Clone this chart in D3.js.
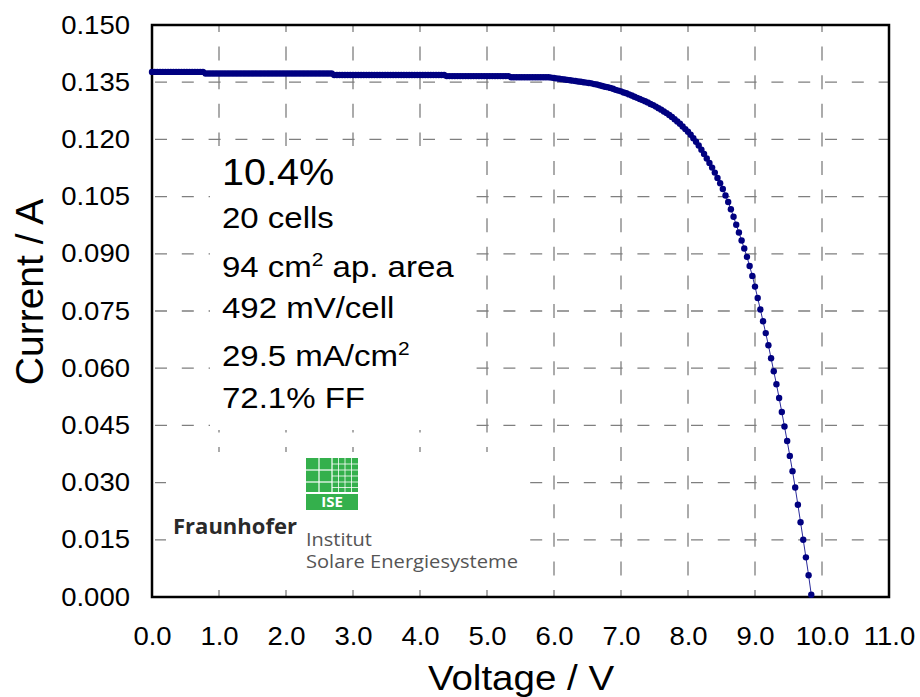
<!DOCTYPE html>
<html>
<head>
<meta charset="utf-8">
<script src="https://cdn.jsdelivr.net/npm/d3@7"></script>
<style>
  body { margin: 0; background: #fff; }
  svg { display: block; }
  text { font-family: "Liberation Sans", Arial, sans-serif; fill: #000; }
</style>
</head>
<body>
<svg id="chart" width="920" height="697"></svg>
<script>
// Measured I-V characteristic of the 20-cell module (voltage in V, current in A)
const voltage = [
  0.00,0.04,0.08,0.12,0.16,0.20,0.24,0.28,0.32,0.36,
  0.40,0.44,0.48,0.52,0.56,0.60,0.64,0.68,0.72,0.76,
  0.80,0.84,0.88,0.92,0.96,1.00,1.04,1.08,1.12,1.16,
  1.20,1.24,1.28,1.32,1.36,1.40,1.44,1.48,1.52,1.56,
  1.60,1.64,1.68,1.72,1.76,1.80,1.84,1.88,1.92,1.96,
  2.00,2.04,2.08,2.12,2.16,2.20,2.24,2.28,2.32,2.36,
  2.40,2.44,2.48,2.52,2.56,2.60,2.64,2.68,2.72,2.76,
  2.80,2.84,2.88,2.92,2.96,3.00,3.04,3.08,3.12,3.16,
  3.20,3.24,3.28,3.32,3.36,3.40,3.44,3.48,3.52,3.56,
  3.60,3.64,3.68,3.72,3.76,3.80,3.84,3.88,3.92,3.96,
  4.00,4.04,4.08,4.12,4.16,4.20,4.24,4.28,4.32,4.36,
  4.40,4.44,4.48,4.52,4.56,4.60,4.64,4.68,4.72,4.76,
  4.80,4.84,4.88,4.92,4.96,5.00,5.04,5.08,5.12,5.16,
  5.20,5.24,5.28,5.32,5.36,5.40,5.44,5.48,5.52,5.56,
  5.60,5.64,5.68,5.72,5.76,5.80,5.84,5.88,5.92,5.96,
  6.00,6.04,6.08,6.12,6.16,6.20,6.24,6.28,6.32,6.36,
  6.40,6.44,6.48,6.52,6.56,6.60,6.64,6.68,6.72,6.76,
  6.80,6.84,6.88,6.92,6.96,7.00,7.04,7.08,7.12,7.16,
  7.20,7.24,7.28,7.32,7.36,7.40,7.44,7.48,7.52,7.56,
  7.60,7.64,7.68,7.72,7.76,7.80,7.84,7.88,7.92,7.96,
  8.00,8.04,8.08,8.12,8.16,8.20,8.24,8.28,8.32,8.36,
  8.40,8.44,8.48,8.52,8.56,8.60,8.64,8.68,8.72,8.76,
  8.80,8.84,8.88,8.92,8.96,9.00,9.04,9.08,9.12,9.16,
  9.20,9.24,9.28,9.32,9.36,9.40,9.44,9.48,9.52,9.56,
  9.60,9.64,9.68,9.72,9.76,9.80,9.84
];
const current = [
  0.1377,0.1377,0.1377,0.1377,0.1377,0.1377,0.1377,0.1377,0.1377,0.1377,
  0.1377,0.1377,0.1377,0.1377,0.1377,0.1377,0.1377,0.1377,0.1377,0.1377,
  0.1373,0.1373,0.1373,0.1373,0.1373,0.1373,0.1373,0.1373,0.1373,0.1373,
  0.1373,0.1373,0.1373,0.1373,0.1373,0.1373,0.1373,0.1373,0.1373,0.1373,
  0.1373,0.1373,0.1373,0.1373,0.1373,0.1373,0.1373,0.1373,0.1373,0.1373,
  0.1373,0.1373,0.1373,0.1373,0.1373,0.1373,0.1373,0.1373,0.1373,0.1373,
  0.1373,0.1373,0.1373,0.1373,0.1373,0.1373,0.1373,0.1373,0.1369,0.1369,
  0.1369,0.1369,0.1369,0.1369,0.1369,0.1369,0.1369,0.1369,0.1369,0.1369,
  0.1369,0.1369,0.1369,0.1369,0.1369,0.1369,0.1369,0.1369,0.1369,0.1369,
  0.1369,0.1369,0.1369,0.1369,0.1369,0.1369,0.1369,0.1369,0.1369,0.1369,
  0.1369,0.1369,0.1369,0.1369,0.1369,0.1369,0.1369,0.1369,0.1369,0.1369,
  0.1366,0.1366,0.1366,0.1366,0.1366,0.1366,0.1366,0.1366,0.1366,0.1366,
  0.1366,0.1366,0.1366,0.1366,0.1366,0.1366,0.1366,0.1366,0.1366,0.1366,
  0.1366,0.1366,0.1366,0.1366,0.1363,0.1363,0.1363,0.1363,0.1363,0.1363,
  0.1363,0.1363,0.1363,0.1363,0.1363,0.1363,0.1363,0.1363,0.1363,0.1362,
  0.1361,0.1360,0.1359,0.1358,0.1357,0.1356,0.1355,0.1354,0.1353,0.1352,
  0.1351,0.1350,0.1349,0.1348,0.1347,0.1345,0.1344,0.1342,0.1340,0.1338,
  0.1337,0.1335,0.1333,0.1330,0.1328,0.1326,0.1323,0.1321,0.1318,0.1315,
  0.1312,0.1309,0.1306,0.1303,0.1300,0.1297,0.1293,0.1290,0.1286,0.1282,
  0.1278,0.1273,0.1269,0.1264,0.1259,0.1253,0.1247,0.1241,0.1234,0.1227,
  0.1220,0.1212,0.1203,0.1194,0.1184,0.1173,0.1162,0.1150,0.1138,0.1126,
  0.1113,0.1099,0.1085,0.1070,0.1053,0.1036,0.1017,0.0997,0.0976,0.0956,
  0.0935,0.0914,0.0892,0.0868,0.0842,0.0814,0.0784,0.0754,0.0723,0.0692,
  0.0660,0.0626,0.0592,0.0558,0.0522,0.0485,0.0447,0.0409,0.0370,0.0330,
  0.0287,0.0242,0.0196,0.0150,0.0104,0.0057,0.0006
];

const xTicks = [0,1,2,3,4,5,6,7,8,9,10,11];
const yTicks = [0,0.015,0.030,0.045,0.060,0.075,0.090,0.105,0.120,0.135,0.150];
const xTitle = "Voltage / V";
const yTitle = "Current / A";

// Module summary; entries marked sup are superscripts
const statLines = [
  [{t:"10.4%"}],
  [{t:"20 cells"}],
  [{t:"94 cm"},{t:"2",sup:true},{t:" ap. area"}],
  [{t:"492 mV/cell"}],
  [{t:"29.5 mA/cm"},{t:"2",sup:true}],
  [{t:"72.1% FF"}]
];
const logoName = "Fraunhofer";
const logoLines = ["Institut","Solare Energiesysteme"];
const logoMark = "ISE";

// ---- layout ----
const plot = {left:152, top:25, right:889, bottom:597};
const svg = d3.select("#chart");

const x = d3.scaleLinear().domain([0,11]).range([plot.left, plot.right]);
const y = d3.scaleLinear().domain([0,0.15]).range([plot.bottom, plot.top]);

// widen glyphs horizontally while keeping their anchor
function stretch(sel, k) {
  sel.each(function() {
    const w = this.getComputedTextLength();
    d3.select(this).attr("textLength", w * k).attr("lengthAdjust", "spacingAndGlyphs");
  });
}

// dashed grid
const grid = svg.append("g").attr("stroke", "#7f7f7f").attr("stroke-width", 1.3).attr("fill", "none");
grid.selectAll("line.gv").data(xTicks.slice(1, -1)).join("line").attr("class", "gv")
  .attr("x1", d => x(d)).attr("x2", d => x(d))
  .attr("y1", plot.top).attr("y2", plot.bottom)
  .attr("stroke-dasharray", "14,14.6").attr("stroke-dashoffset", 7);
grid.selectAll("line.gh").data(yTicks.slice(1, -1)).join("line").attr("class", "gh")
  .attr("x1", plot.left).attr("x2", plot.right)
  .attr("y1", d => y(d)).attr("y2", d => y(d))
  .attr("stroke-dasharray", "12,14.8").attr("stroke-dashoffset", -3);

// white panels behind the annotation and the institute logo
svg.append("rect").attr("x", 210).attr("y", 146).attr("width", 253).attr("height", 284).attr("fill", "#fff");
svg.append("rect").attr("x", 166).attr("y", 452).attr("width", 357).attr("height", 124).attr("fill", "#fff");

// annotation block
const statBase = [185, 228, 277, 318, 366, 408];
const statSize = [37, 30, 30, 30, 30, 30];
const stats = svg.append("g");
statLines.forEach((parts, i) => {
  const g = stats.append("g")
    .attr("transform", `translate(222,${statBase[i]}) scale(${i === 0 ? 1.07 : 1.1},1)`);
  const t = g.append("text").attr("x", 0).attr("y", 0).style("font-size", statSize[i] + "px");
  let raised = false;
  parts.forEach(p => {
    const ts = t.append("tspan").text(p.t);
    if (p.sup) { ts.style("font-size", "19px").attr("dy", -11); raised = true; }
    else if (raised) { ts.attr("dy", 11); raised = false; }
  });
});

// institute logo
const logo = svg.append("g");
const lx = 306, ly = 458, ls = 52;
logo.append("rect").attr("x", lx).attr("y", ly).attr("width", ls).attr("height", ls).attr("fill", "#34b04c");
const wl = logo.append("g").attr("stroke", "#fff").attr("stroke-width", 1.2);
wl.append("line").attr("x1", lx).attr("x2", lx + ls).attr("y1", ly + 35).attr("y2", ly + 35).attr("stroke-width", 1.8);
[13, 26].forEach(dx => wl.append("line").attr("x1", lx + dx).attr("x2", lx + dx).attr("y1", ly).attr("y2", ly + 35));
[32.5, 39, 45.5].forEach(dx => wl.append("line").attr("x1", lx + dx).attr("x2", lx + dx).attr("y1", ly).attr("y2", ly + 35).attr("stroke-width", 0.8));
[12, 24].forEach(dy => wl.append("line").attr("x1", lx).attr("x2", lx + 26).attr("y1", ly + dy).attr("y2", ly + dy));
[6, 12, 18, 24, 29.5].forEach(dy => wl.append("line").attr("x1", lx + 26).attr("x2", lx + ls).attr("y1", ly + dy).attr("y2", ly + dy).attr("stroke-width", 0.8));
logo.append("text").attr("x", lx + ls / 2).attr("y", ly + 49).attr("text-anchor", "middle")
  .style("font-family", "'Open Sans', sans-serif").style("font-weight", "bold").style("font-size", "15px")
  .style("fill", "#fff").text(logoMark);
logo.append("text").attr("x", 173).attr("y", 534)
  .style("font-family", "'Open Sans', sans-serif").style("font-weight", "bold").style("font-size", "21px")
  .style("fill", "#2a2a2a").attr("textLength", 124).attr("lengthAdjust", "spacingAndGlyphs").text(logoName);
logo.append("text").attr("x", lx).attr("y", 546)
  .style("font-family", "'Open Sans', sans-serif").style("font-size", "18px")
  .style("fill", "#555").attr("textLength", 66).attr("lengthAdjust", "spacingAndGlyphs").text(logoLines[0]);
logo.append("text").attr("x", lx).attr("y", 568)
  .style("font-family", "'Open Sans', sans-serif").style("font-size", "18px")
  .style("fill", "#555").attr("textLength", 212).attr("lengthAdjust", "spacingAndGlyphs").text(logoLines[1]);

// axes (labels only)
const yAxis = svg.append("g").attr("transform", `translate(${plot.left},0)`)
  .call(d3.axisLeft(y).tickValues(yTicks).tickFormat(d3.format(".3f")).tickSize(0).tickPadding(22));
const xAxis = svg.append("g").attr("transform", `translate(0,${plot.bottom})`)
  .call(d3.axisBottom(x).tickValues(xTicks).tickFormat(d3.format(".1f")).tickSize(0).tickPadding(30));
[yAxis, xAxis].forEach(a => {
  a.select(".domain").remove();
  a.selectAll("text").attr("font-family", null).attr("font-size", null)
    .style("font-size", "25px").style("fill", "#000");
  stretch(a.selectAll("text"), 1.1);
});

// axis titles
svg.append("text").attr("transform", "translate(43,292) rotate(-90)").attr("text-anchor", "middle")
  .style("font-size", "39px").text(yTitle);
svg.append("g").attr("transform", "translate(521,690) scale(1.1,1)")
  .append("text").attr("text-anchor", "middle").style("font-size", "35px").text(xTitle);

// plot frame
svg.append("rect").attr("x", plot.left).attr("y", plot.top)
  .attr("width", plot.right - plot.left).attr("height", plot.bottom - plot.top)
  .attr("fill", "none").attr("stroke", "#000").attr("stroke-width", 2.5);

// I-V curve: thin connecting line plus measurement points
const pts = voltage.map((v, i) => [v, current[i]]);
svg.append("path").datum(pts)
  .attr("d", d3.line().x(d => x(d[0])).y(d => y(d[1])))
  .attr("fill", "none").attr("stroke", "#2a2a9a").attr("stroke-width", 1);
svg.append("g").selectAll("circle").data(pts).join("circle")
  .attr("cx", d => x(d[0])).attr("cy", d => y(d[1])).attr("r", 3.2)
  .attr("fill", "#000080");
</script>
</body>
</html>
